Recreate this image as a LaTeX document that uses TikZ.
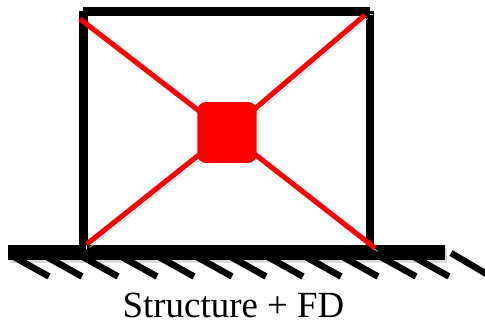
\documentclass[tikz,border=0pt]{standalone}
\usepackage{fontspec}
\setmainfont{Liberation Serif}
\usepackage{tikz}
\usetikzlibrary{positioning, calc, backgrounds}

\tikzset{
    softedge/.style={preaction={draw=black!14, transform canvas={shift={(1.5pt,-2pt)}}}},
    framebar/.style={black, line width=5pt, softedge},
    redbrace/.style={red, line width=2.9pt, softedge},
    hatchline/.style={black, line width=3.7pt, softedge},
    damperbox/.style={fill=red, rounded corners=5pt, minimum width=1.19cm, minimum height=1.22cm, inner sep=0pt, outer sep=0pt},
    caption/.style={font=\fontsize{21}{24}\selectfont, anchor=base}
}

\begin{document}
\begin{tikzpicture}[x=0.02cm, y=-0.02cm]
    \useasboundingbox (0,0) rectangle (485,324);
    \clip (0,0) rectangle (485,324);
    % corners of the frame
    \coordinate (topleft) at (80,19);
    \coordinate (topright) at (365,15);
    \coordinate (baseleft) at (87,244);
    \coordinate (baseright) at (375,248);
    % damper sits on top of everything else
    \node[damperbox] (damper) at (227,132.5) {};
    \begin{scope}[on background layer]
        \fill[black!14] (10,248) rectangle (447,263);
        % hatching under the ground
        \foreach \x in {18,51,87,126,163,201,235,272,310,347,385,418} { \draw[hatchline] (\x-4,257) -- (\x+31,276.5); }
        \draw[hatchline] (451,253) -- (490,276);
        % ground and frame
        \fill[black] (8,245) rectangle (445,260);
        \draw[framebar] (83.3,11) -- (83.3,245);
        \draw[framebar] (370,11) -- (370,245);
        \draw[framebar] (83,11.2) -- (370,11.2);
        % braces
        \draw[redbrace] (topleft) -- (damper.center);
        \draw[redbrace] (topright) -- (damper.center);
        \draw[redbrace] (baseleft) -- (damper.center);
        \draw[redbrace] (baseright) -- (damper.center);
    \end{scope}
    \node[caption] (label) at (233.5,318) {Structure + FD};
\end{tikzpicture}
\end{document}
